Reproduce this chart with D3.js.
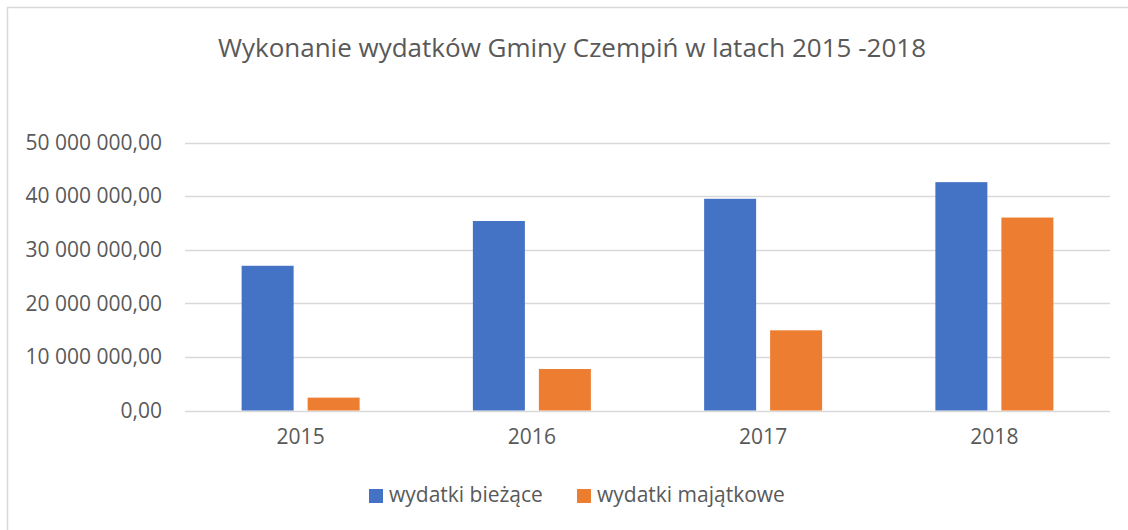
<!DOCTYPE html>
<html><head><meta charset="utf-8">
<script src="https://cdn.jsdelivr.net/npm/d3@7"></script>
<style>body{margin:0;background:#fff;}svg{display:block;font-family:"Open Sans",sans-serif;}</style>
</head><body>
<svg id="c" width="1128" height="530"></svg>
<script>
const title = "Wykonanie wydatków Gminy Czempiń w latach 2015 -2018";
const categories = ["2015", "2016", "2017", "2018"];
const seriesNames = ["wydatki bieżące", "wydatki majątkowe"];
const biezace = [27000000, 35350000, 39500000, 42600000];
const majatkowe = [2400000, 7740000, 14960000, 36000000];
const yTicks = [0, 10000000, 20000000, 30000000, 40000000, 50000000];
const colors = ["#4472C4", "#ED7D31"];

const svg = d3.select("#c");
const textColor = "#595959";

// chart border
svg.append("rect").attr("x", 7.5).attr("y", 7.5).attr("width", 1130).attr("height", 540)
  .attr("fill", "none").attr("stroke", "#D9D9D9").attr("stroke-width", 1.5);

svg.append("text").attr("x", 572).attr("y", 57).attr("text-anchor", "middle")
  .attr("fill", textColor).attr("font-size", 26).text(title);

const x0 = d3.scaleBand().domain(categories).range([185, 1110]).padding(0);
const x1 = d3.scaleBand().domain(seriesNames).range([0, x0.bandwidth()])
  .paddingInner(0.2121).paddingOuter(0.858);
const y = d3.scaleLinear().domain([0, 50000000]).range([410.5, 142.5]);

const fmt = v => {
  const s = d3.format(",.2f")(v);
  return s.replace(/,/g, " ").replace(".", ",");
};

// gridlines
svg.append("g").selectAll("line").data(yTicks).join("line")
  .attr("x1", 185).attr("x2", 1110)
  .attr("y1", d => Math.round(y(d)) + 0.5).attr("y2", d => Math.round(y(d)) + 0.5)
  .attr("stroke", "#D9D9D9").attr("stroke-width", 1.3);

// y labels
const yAxis = d3.axisLeft(y).tickValues(yTicks).tickFormat(fmt).tickSize(0).tickPadding(0);
const ga = svg.append("g").attr("transform", "translate(162,0)").call(yAxis);
ga.select(".domain").remove();
ga.selectAll("text").attr("fill", textColor).attr("font-size", 21).attr("font-family", "Open Sans");

// x labels
const xAxis = d3.axisBottom(x0).tickSize(0).tickPadding(0);
const gx = svg.append("g").attr("transform", "translate(0,429)").call(xAxis);
gx.select(".domain").remove();
gx.selectAll("text").attr("fill", textColor).attr("font-size", 21).attr("font-family", "Open Sans");

const data = categories.map((c, i) => ({cat: c, vals: [biezace[i], majatkowe[i]]}));
const groups = svg.append("g").selectAll("g").data(data).join("g")
  .attr("transform", d => `translate(${x0(d.cat)},0)`);
groups.selectAll("rect").data(d => d.vals.map((v, j) => ({v, s: seriesNames[j], j})))
  .join("rect")
  .attr("x", d => x1(d.s)).attr("width", x1.bandwidth())
  .attr("y", d => y(d.v)).attr("height", d => y(0) - y(d.v))
  .attr("fill", d => colors[d.j]);

// legend
const legendX = [369, 577];
const lg = svg.append("g").selectAll("g").data(seriesNames).join("g")
  .attr("transform", (d, i) => `translate(${legendX[i]},489)`);
lg.append("rect").attr("width", 14).attr("height", 14).attr("fill", (d, i) => colors[i]);
lg.append("text").attr("x", 20).attr("y", 13).attr("fill", textColor).attr("font-size", 21).text(d => d);
</script>
</body></html>
